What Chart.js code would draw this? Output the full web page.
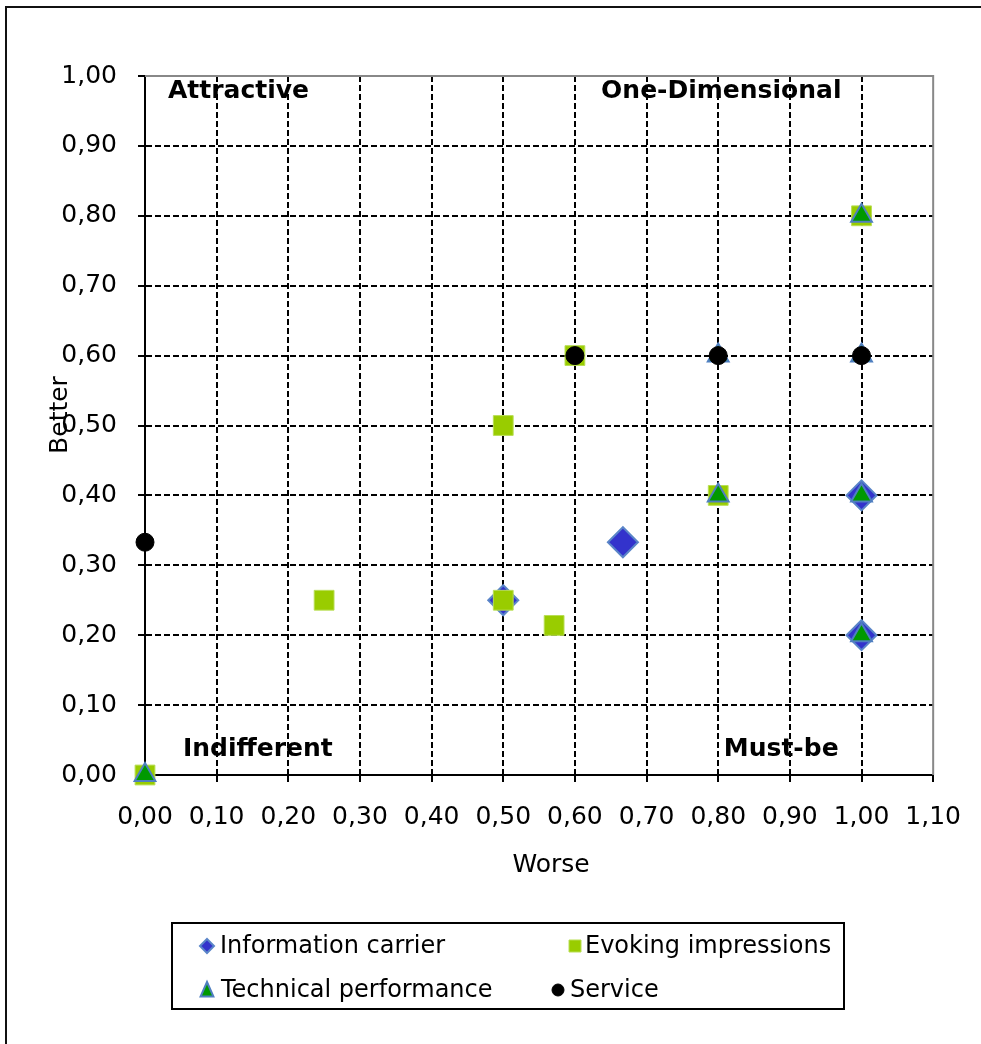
<!DOCTYPE html>
<html>
<head>
<meta charset="utf-8">
<script src="https://cdn.jsdelivr.net/npm/chart.js@4.4.0/dist/chart.umd.min.js"></script>
<style>
  html, body { margin: 0; padding: 0; background: #fff; }
  #wrap { width: 981px; height: 1044px; }
</style>
</head>
<body>
<div id="wrap"><canvas id="kanoChart" width="981" height="1044"></canvas></div>
<script>
// series values (Worse = x, Better = y)
var infoX = [0.5, 0.667, 1.0, 1.0];
var infoY = [0.25, 0.333, 0.4, 0.2];
var evokeX = [0, 0.25, 0.5, 0.5, 0.571, 0.6, 0.8, 1.0];
var evokeY = [0, 0.25, 0.5, 0.25, 0.214, 0.6, 0.4, 0.8];
var techX = [0, 0.8, 1.0, 0.8, 1.0, 1.0, 1.0];
var techY = [0, 0.6, 0.6, 0.4, 0.8, 0.4, 0.2];
var serviceX = [0, 0.6, 0.8, 1.0];
var serviceY = [0.333, 0.6, 0.6, 0.6];

var seriesNames = ['Information carrier', 'Evoking impressions', 'Technical performance', 'Service'];
var xTickLabels = ['0,00', '0,10', '0,20', '0,30', '0,40', '0,50', '0,60', '0,70', '0,80', '0,90', '1,00', '1,10'];
var yTickLabels = ['0,00', '0,10', '0,20', '0,30', '0,40', '0,50', '0,60', '0,70', '0,80', '0,90', '1,00'];
var quadrantNames = ['Attractive', 'One-Dimensional', 'Indifferent', 'Must-be'];

function toPoints(xs, ys) {
    return xs.map((x, i) => ({ x: x, y: ys[i] }));
}

var FONT = '"DejaVu Sans", Verdana, sans-serif';

var styles = [
    { pointStyle: 'rectRot', radius: 15, bg: '#3333CC', border: '#5A85C8', bw: 2 },
    { pointStyle: 'rect', radius: 14, bg: '#99CC00', border: '#B9DE55', bw: 1 },
    { pointStyle: 'triangle', radius: 12, bg: '#009900', border: '#4F7FC0', bw: 2 },
    { pointStyle: 'circle', radius: 9, bg: '#000000', border: '#000000', bw: 1 }
];

function drawMarker(ctx, st, x, y, r) {
    ctx.save();
    ctx.fillStyle = st.bg;
    ctx.strokeStyle = st.border;
    ctx.lineWidth = st.bw;
    ctx.beginPath();
    if (st.pointStyle === 'rectRot') {
        ctx.moveTo(x, y - r); ctx.lineTo(x + r, y); ctx.lineTo(x, y + r); ctx.lineTo(x - r, y);
        ctx.closePath();
    } else if (st.pointStyle === 'rect') {
        ctx.rect(x - r, y - r, 2 * r, 2 * r);
    } else if (st.pointStyle === 'triangle') {
        ctx.moveTo(x, y - r); ctx.lineTo(x + r * 0.8, y + r * 0.8); ctx.lineTo(x - r * 0.8, y + r * 0.8);
        ctx.closePath();
    } else {
        ctx.arc(x, y, r, 0, Math.PI * 2);
    }
    ctx.fill();
    ctx.stroke();
    ctx.restore();
}

var decorPlugin = {
    id: 'decor',
    afterDraw(chart) {
        var ctx = chart.ctx;
        var area = chart.chartArea;
        var xs = chart.scales.x, ys = chart.scales.y;
        ctx.save();

        // outer frame
        ctx.strokeStyle = '#111';
        ctx.lineWidth = 2;
        ctx.strokeRect(6, 7, 1000, 1060);

        // grey top and right plot edges
        ctx.strokeStyle = '#888';
        ctx.lineWidth = 2;
        ctx.beginPath();
        ctx.moveTo(area.left, area.top);
        ctx.lineTo(area.right, area.top);
        ctx.lineTo(area.right, area.bottom);
        ctx.stroke();

        // quadrant names
        ctx.fillStyle = '#000';
        ctx.font = 'bold 25px ' + FONT;
        ctx.textBaseline = 'middle';
        ctx.textAlign = 'left';
        ctx.fillText(quadrantNames[0], xs.getPixelForValue(0.032), ys.getPixelForValue(0.978));
        ctx.fillText(quadrantNames[2], xs.getPixelForValue(0.053), ys.getPixelForValue(0.036));
        ctx.textAlign = 'right';
        ctx.fillText(quadrantNames[1], xs.getPixelForValue(0.972), ys.getPixelForValue(0.978));
        ctx.fillText(quadrantNames[3], xs.getPixelForValue(0.968), ys.getPixelForValue(0.036));

        // axis titles
        ctx.font = '25px ' + FONT;
        ctx.textAlign = 'center';
        ctx.fillText('Worse', 551, 865);
        ctx.save();
        ctx.translate(60, 415);
        ctx.rotate(-Math.PI / 2);
        ctx.fillText('Better', 0, 0);
        ctx.restore();

        // legend box
        ctx.strokeStyle = '#000';
        ctx.lineWidth = 2;
        ctx.strokeRect(172, 923, 672, 86);
        ctx.font = '24px ' + FONT;
        ctx.textAlign = 'left';
        var slots = [[207, 946, 220], [575, 946, 585], [207, 990, 221], [558, 990, 570]];
        seriesNames.forEach((name, i) => {
            var s = slots[i];
            var st = styles[i];
            var r = st.pointStyle === 'rectRot' ? 7 : st.pointStyle === 'triangle' ? 8 : 6;
            drawMarker(ctx, st, s[0], s[1], r);
            ctx.fillStyle = '#000';
            ctx.fillText(name, s[2], s[1] + 1);
        });
        ctx.restore();
    }
};

var datasets = [
    { label: seriesNames[0], data: toPoints(infoX, infoY), order: 4 },
    { label: seriesNames[1], data: toPoints(evokeX, evokeY), order: 3 },
    { label: seriesNames[2], data: toPoints(techX, techY), order: 2 },
    { label: seriesNames[3], data: toPoints(serviceX, serviceY), order: 1 }
].map((ds, i) => Object.assign(ds, {
    pointStyle: styles[i].pointStyle,
    pointRadius: styles[i].radius,
    pointHoverRadius: styles[i].radius,
    backgroundColor: styles[i].bg,
    borderColor: styles[i].border,
    pointBorderWidth: styles[i].bw,
    showLine: false,
    clip: false
}));

var kanoChart = new Chart('kanoChart', { //eslint-disable-line
    type: 'scatter',
    data: { datasets: datasets },
    plugins: [decorPlugin],
    options: {
        responsive: false,
        animation: false,
        layout: { padding: { top: 76, right: 46, left: 0, bottom: 0 } },
        plugins: {
            legend: { display: false },
            tooltip: { enabled: false }
        },
        scales: {
            x: {
                type: 'linear',
                min: 0,
                max: 1.1,
                afterFit: scale => { scale.height = 269; },
                ticks: {
                    stepSize: 0.1,
                    padding: 20,
                    color: '#000',
                    font: { family: FONT, size: 25 },
                    maxRotation: 0,
                    autoSkip: false,
                    callback: (v, i) => xTickLabels[i]
                },
                grid: {
                    color: c => (c.tick && (c.tick.value < 1e-6 || c.tick.value > 1.09)) ? 'rgba(0,0,0,0)' : '#000',
                    lineWidth: 2,
                    tickLength: 7,
                    tickColor: '#000',
                    tickWidth: 2
                },
                border: { display: true, color: '#000', width: 2, dash: [6, 3] }
            },
            y: {
                type: 'linear',
                min: 0,
                max: 1,
                afterFit: scale => { scale.width = 145; },
                ticks: {
                    stepSize: 0.1,
                    padding: 21,
                    color: '#000',
                    font: { family: FONT, size: 25 },
                    autoSkip: false,
                    callback: (v, i) => yTickLabels[i]
                },
                grid: {
                    color: c => (c.tick && (c.tick.value < 1e-6 || c.tick.value > 0.99)) ? 'rgba(0,0,0,0)' : '#000',
                    lineWidth: 2,
                    tickLength: 7,
                    tickColor: '#000',
                    tickWidth: 2
                },
                border: { display: true, color: '#000', width: 2, dash: [6, 3] }
            }
        }
    }
});
</script>
</body>
</html>
